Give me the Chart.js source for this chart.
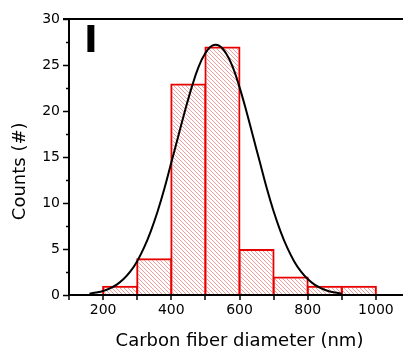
<!DOCTYPE html>
<html>
<head>
<meta charset="utf-8">
<script src="https://cdn.jsdelivr.net/npm/chart.js@4.4.1/dist/chart.umd.min.js"></script>
<style>
  html, body { margin: 0; padding: 0; width: 403px; height: 356px; overflow: hidden; background: #fff; }
</style>
</head>
<body>
<canvas id="hist" width="425" height="356"></canvas>
<script>
// histogram bins (centre of each 100 nm bin) and counts
const binCenters = [250, 350, 450, 550, 650, 750, 850, 950];
const counts = [1, 4, 23, 27, 5, 2, 1, 1];

// gaussian fit curve
const fitX = [160, 180, 200, 220, 240, 260, 280, 300, 320, 340, 360, 380, 400, 420, 440, 460, 480, 500, 520,
              540, 560, 580, 600, 620, 640, 660, 680, 700, 720, 740, 760, 780, 800, 820, 840, 860, 880, 900];
const fitY = [0.15, 0.27, 0.44, 0.72, 1.13, 1.73, 2.56, 3.68, 5.14, 6.95, 9.1, 11.6, 14.4, 17.2, 20.0, 22.6, 24.8, 26.3, 27.1,
              27.1, 26.3, 24.8, 22.6, 20.0, 17.2, 14.4, 11.6, 9.1, 6.95, 5.14, 3.68, 2.56, 1.73, 1.13, 0.72, 0.44, 0.27, 0.15];

const xLabels = [200, 400, 600, 800, 1000];
const panelLabel = 'I';

Chart.defaults.font.family = "'DejaVu Sans', sans-serif";
Chart.defaults.color = '#000';

function makeHatch() {
    const c = document.createElement('canvas');
    c.width = 4; c.height = 4;
    const g = c.getContext('2d');
    g.strokeStyle = 'rgba(232,50,50,0.48)';
    g.lineWidth = 1;
    g.beginPath();
    g.moveTo(-1, -1); g.lineTo(5, 5);
    g.moveTo(-1, 3); g.lineTo(1, 5);
    g.moveTo(3, -1); g.lineTo(5, 1);
    g.stroke();
    return g.createPattern(c, 'repeat');
}

// axis frame, tick marks and the panel letter
const framePlugin = {
    id: 'frame',
    afterDatasetsDraw(chart) {
        const ctx = chart.ctx;
        const a = chart.chartArea;
        const xs = chart.scales.x, ys = chart.scales.y;
        ctx.save();
        ctx.strokeStyle = '#000';
        ctx.lineWidth = 1.5;
        ctx.beginPath();
        for (let v = 0; v <= 30; v += 2.5) {
            const py = Math.round(ys.getPixelForValue(v)) + 0.5;
            const len = v % 5 == 0 ? 6 : 3;
            ctx.moveTo(a.left - len, py); ctx.lineTo(a.left, py);
        }
        for (let v = 100; v <= 1100; v += 100) {
            const px = Math.round(xs.getPixelForValue(v));
            ctx.moveTo(px, a.bottom); ctx.lineTo(px, a.bottom + 5);
        }
        ctx.stroke();

        ctx.lineWidth = 2;
        ctx.beginPath();
        ctx.moveTo(a.left, a.top - 1); ctx.lineTo(a.left, a.bottom + 1);
        ctx.moveTo(a.left - 1, a.bottom); ctx.lineTo(a.right, a.bottom);
        ctx.moveTo(a.left - 6, a.top); ctx.lineTo(a.right, a.top);
        ctx.stroke();

        ctx.fillStyle = '#000';
        ctx.font = "bold 37px 'DejaVu Sans'";
        ctx.textAlign = 'left';
        ctx.textBaseline = 'alphabetic';
        ctx.fillText(panelLabel, a.left + 15, a.top + 33);
        ctx.restore();
    }
};

new Chart(document.getElementById('hist'), {
    type: 'bar',
    data: {
        datasets: [
            {
                type: 'line',
                data: fitX.map((x, i) => ({ x: x, y: fitY[i] })),
                borderColor: '#000',
                borderWidth: 2,
                pointRadius: 0,
                tension: 0.4,
                fill: false,
                order: 0
            },
            {
                type: 'bar',
                data: binCenters.map((c, i) => ({ x: c, y: counts[i] })),
                backgroundColor: makeHatch(),
                borderColor: 'rgb(232,0,0)',
                borderWidth: 2,
                barPercentage: 1.058,
                categoryPercentage: 1,
                order: 1
            }
        ]
    },
    options: {
        responsive: false,
        animation: false,
        layout: { padding: { top: 19, right: 15, left: 0, bottom: 0 } },
        plugins: { legend: { display: false }, tooltip: { enabled: false } },
        scales: {
            x: {
                type: 'linear',
                min: 100,
                max: 1100,
                offset: false,
                grid: { display: false, drawTicks: false, offset: false },
                border: { display: false },
                ticks: {
                    stepSize: 100,
                    autoSkip: false,
                    maxRotation: 0,
                    padding: 7,
                    font: { size: 14 },
                    color: '#000',
                    callback: v => xLabels.includes(v) ? String(v) : ''
                },
                title: {
                    display: true,
                    text: 'Carbon fiber diameter (nm)',
                    font: { size: 18 },
                    color: '#000',
                    padding: { top: 0, bottom: 4 }
                },
                afterFit: s => { s.height = 61; }
            },
            y: {
                min: 0,
                max: 30,
                grid: { display: false, drawTicks: false },
                border: { display: false },
                ticks: {
                    stepSize: 5,
                    padding: 9,
                    font: { size: 14 },
                    color: '#000'
                },
                title: {
                    display: true,
                    text: 'Counts (#)     ',
                    font: { size: 18 },
                    color: '#000',
                    padding: { top: 10, bottom: 0 }
                },
                afterFit: s => { s.width = 69; }
            }
        }
    },
    plugins: [framePlugin]
});
</script>
</body>
</html>
